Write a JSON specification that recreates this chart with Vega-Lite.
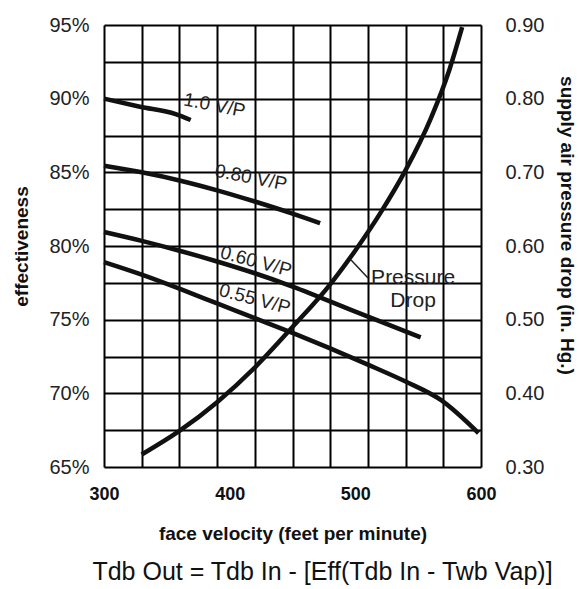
{
  "$schema": "https://vega.github.io/schema/vega-lite/v6.json",
  "width": 377,
  "height": 442,
  "padding": {"left": 12, "top": 15, "right": 2, "bottom": 2},
  "config": {
    "font": "Liberation Sans",
    "view": {"stroke": null},
    "axis": {
      "domain": false,
      "ticks": false,
      "tickSize": 0,
      "gridColor": "#000000",
      "gridWidth": 2,
      "gridOpacity": 1,
      "labelColor": "#222222",
      "titleColor": "#111111",
      "labelFont": "Liberation Sans",
      "titleFont": "Liberation Sans",
      "labelOverlap": false,
      "labelFlush": false
    }
  },
  "title": {
    "text": "Tdb Out = Tdb In - [Eff(Tdb In - Twb Vap)]",
    "orient": "bottom",
    "anchor": "middle",
    "frame": "group",
    "fontSize": 25,
    "fontWeight": "normal",
    "font": "Liberation Sans",
    "color": "#111111",
    "offset": 17,
    "dx": 30
  },
  "datasets": {
    "vp": [
      {"series": "1.0 V/P", "v": 300, "eff": 90.0},
      {"series": "1.0 V/P", "v": 328.6, "eff": 89.45},
      {"series": "1.0 V/P", "v": 357, "eff": 88.95},
      {"series": "1.0 V/P", "v": 369, "eff": 88.55},
      {"series": "0.80 V/P", "v": 300, "eff": 85.45},
      {"series": "0.80 V/P", "v": 330, "eff": 85.0},
      {"series": "0.80 V/P", "v": 360, "eff": 84.45},
      {"series": "0.80 V/P", "v": 390, "eff": 83.78},
      {"series": "0.80 V/P", "v": 420, "eff": 83.02},
      {"series": "0.80 V/P", "v": 450, "eff": 82.2},
      {"series": "0.80 V/P", "v": 472, "eff": 81.55},
      {"series": "0.60 V/P", "v": 300, "eff": 80.95},
      {"series": "0.60 V/P", "v": 330, "eff": 80.35},
      {"series": "0.60 V/P", "v": 360, "eff": 79.68},
      {"series": "0.60 V/P", "v": 390, "eff": 78.95},
      {"series": "0.60 V/P", "v": 420, "eff": 78.15},
      {"series": "0.60 V/P", "v": 450, "eff": 77.25},
      {"series": "0.60 V/P", "v": 500, "eff": 75.55},
      {"series": "0.60 V/P", "v": 552, "eff": 73.8},
      {"series": "0.55 V/P", "v": 300, "eff": 78.9},
      {"series": "0.55 V/P", "v": 330, "eff": 78.05},
      {"series": "0.55 V/P", "v": 360, "eff": 77.1},
      {"series": "0.55 V/P", "v": 390, "eff": 76.1},
      {"series": "0.55 V/P", "v": 420, "eff": 75.1},
      {"series": "0.55 V/P", "v": 450, "eff": 74.1},
      {"series": "0.55 V/P", "v": 480, "eff": 73.05},
      {"series": "0.55 V/P", "v": 510, "eff": 71.95},
      {"series": "0.55 V/P", "v": 540, "eff": 70.8},
      {"series": "0.55 V/P", "v": 568, "eff": 69.55},
      {"series": "0.55 V/P", "v": 598, "eff": 67.3}
    ],
    "pressure": [
      {"v": 330, "dp": 0.317},
      {"v": 360, "dp": 0.349},
      {"v": 390, "dp": 0.388},
      {"v": 420, "dp": 0.435},
      {"v": 450, "dp": 0.49},
      {"v": 480, "dp": 0.548},
      {"v": 500, "dp": 0.594},
      {"v": 520, "dp": 0.645},
      {"v": 540, "dp": 0.703},
      {"v": 560, "dp": 0.773},
      {"v": 575, "dp": 0.84},
      {"v": 585, "dp": 0.897}
    ],
    "vpLabels": [
      {"label": "1.0 V/P", "group": "upper", "v": 388, "eff": 89.55},
      {"label": "0.80 V/P", "group": "upper", "v": 417, "eff": 84.65},
      {"label": "0.60 V/P", "group": "lower", "v": 421, "eff": 78.95},
      {"label": "0.55 V/P", "group": "lower", "v": 420, "eff": 76.4}
    ],
    "notes": [
      {"label": "Pressure", "v": 546, "eff": 77.8},
      {"label": "Drop", "v": 546, "eff": 76.3}
    ],
    "leader": [
      {"v": 496.6, "eff": 79.05, "v2": 510.1, "eff2": 77.83}
    ]
  },
  "encoding": {
    "x": {
      "field": "v",
      "type": "quantitative",
      "scale": {"domain": [300, 600], "nice": false, "zero": false},
      "axis": {
        "values": [300, 330, 360, 390, 400, 420, 450, 480, 500, 510, 540, 570, 600],
        "labelExpr": "(datum.value == 300 || datum.value == 400 || datum.value == 500 || datum.value == 600) ? datum.label : ''",
        "gridOpacity": {"condition": {"test": "datum.value == 400 || datum.value == 500", "value": 0}, "value": 1},
        "labelFontSize": 18,
        "labelFontWeight": "bold",
        "labelColor": "#111111",
        "labelPadding": 18,
        "title": "face velocity (feet per minute)",
        "titleFontSize": 19,
        "titleFontWeight": "bold",
        "titlePadding": 21
      }
    }
  },
  "layer": [
    {
      "encoding": {
        "y": {
          "field": "eff",
          "type": "quantitative",
          "scale": {"domain": [65, 95], "nice": false, "zero": false},
          "axis": {
            "values": [65, 67.5, 70, 72.5, 75, 77.5, 80, 82.5, 85, 87.5, 90, 92.5, 95],
            "labelExpr": "datum.value % 5 === 0 ? datum.value + '%' : ''",
            "labelFontSize": 20,
            "labelPadding": 15,
            "title": "effectiveness",
            "titleFontSize": 19,
            "titleFontWeight": "bold",
            "titlePadding": 17
          }
        }
      },
      "layer": [
        {
          "data": {"name": "vp"},
          "mark": {"type": "line", "color": "#111111", "strokeWidth": 4.5, "interpolate": "monotone", "strokeCap": "butt"},
          "encoding": {
            "detail": {"field": "series", "type": "nominal"}
          }
        },
        {
          "data": {"name": "vpLabels"},
          "transform": [{"filter": "datum.group == 'upper'"}],
          "mark": {"type": "text", "angle": 11, "fontSize": 19, "color": "#222222", "align": "center", "baseline": "middle"},
          "encoding": {
            "text": {"field": "label", "type": "nominal"}
          }
        },
        {
          "data": {"name": "vpLabels"},
          "transform": [{"filter": "datum.group == 'lower'"}],
          "mark": {"type": "text", "angle": 15, "fontSize": 19, "color": "#222222", "align": "center", "baseline": "middle"},
          "encoding": {
            "text": {"field": "label", "type": "nominal"}
          }
        },
        {
          "data": {"name": "notes"},
          "mark": {"type": "text", "fontSize": 21, "color": "#222222", "align": "center", "baseline": "middle"},
          "encoding": {
            "text": {"field": "label", "type": "nominal"}
          }
        },
        {
          "data": {"name": "leader"},
          "mark": {"type": "rule", "color": "#222222", "strokeWidth": 1.5},
          "encoding": {
            "x2": {"field": "v2"},
            "y2": {"field": "eff2"}
          }
        }
      ]
    },
    {
      "data": {"name": "pressure"},
      "mark": {"type": "line", "color": "#111111", "strokeWidth": 4.5, "interpolate": "monotone", "strokeCap": "butt"},
      "encoding": {
        "y": {
          "field": "dp",
          "type": "quantitative",
          "scale": {"domain": [0.3, 0.9], "nice": false, "zero": false},
          "axis": {
            "orient": "right",
            "values": [0.3, 0.4, 0.5, 0.6, 0.7, 0.8, 0.9],
            "format": ".2f",
            "grid": false,
            "labelFontSize": 20,
            "labelPadding": 24,
            "title": "supply air pressure drop (in. Hg.)",
            "titleFontSize": 19,
            "titleFontWeight": "bold",
            "titlePadding": 13,
            "titleY": 200
          }
        }
      }
    }
  ],
  "resolve": {"scale": {"y": "independent"}}
}
